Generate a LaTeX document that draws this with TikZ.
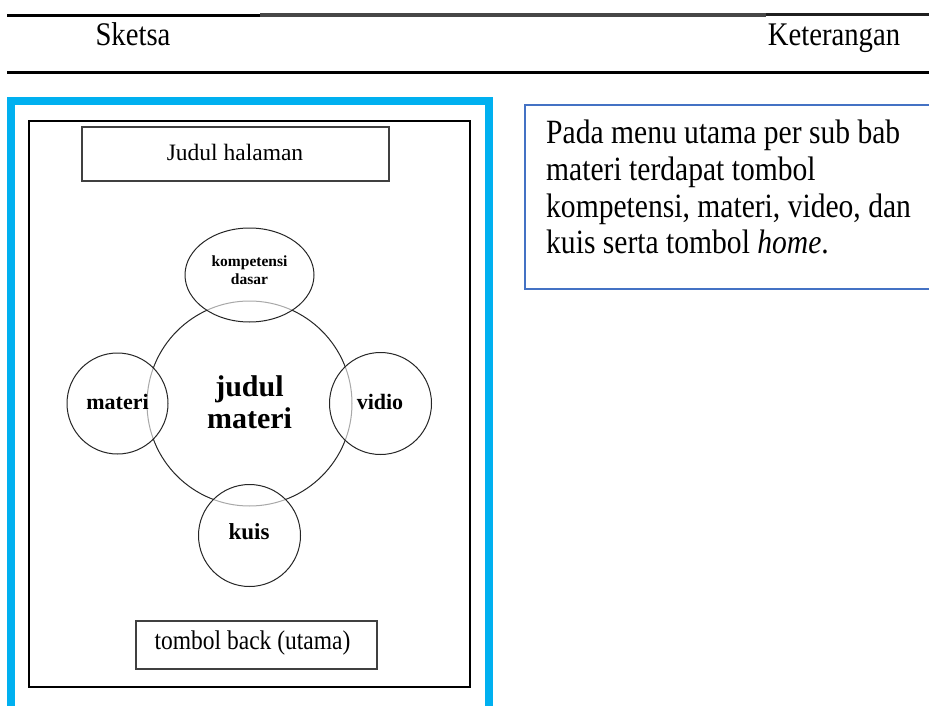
\documentclass[tikz,border=0pt]{standalone}
\usepackage{fontspec}
\setmainfont{Liberation Serif}
\newfontfamily\condfont[FakeStretch=0.87]{Liberation Serif}
\usetikzlibrary{shapes.geometric}
\definecolor{frameblue}{HTML}{00B0F0}
\definecolor{boxblue}{HTML}{4472C4}
\tikzset{
  rulestyle/.style={line width=3pt},
  sketchbox/.style={draw=black!75, line width=1.2pt, inner sep=0pt, rectangle},
  bubble/.style={circle, draw=black!85, line width=1pt, inner sep=0pt, fill=white, fill opacity=0.6, text opacity=1},
  bigbubble/.style={circle, draw=black!85, line width=1pt, inner sep=0pt},
  headtext/.style={font=\condfont\fontsize{33}{36}\selectfont, inner sep=0pt, anchor=base},
  desctext/.style={font=\condfont\fontsize{34}{37}\selectfont, inner sep=0pt, anchor=base west},
}
\begin{document}
\begin{tikzpicture}[x=1pt,y=-1pt]
\useasboundingbox (0,0) rectangle (929,706);
\clip (0,0) rectangle (929,706);
% header rules
\draw[rulestyle, black] (7,16) -- (260,16);
\draw[line width=4pt, black!72] (260,15.5) -- (512,15.5);
\draw[line width=4pt, black!72] (512,15.5) -- (766,15.5);
\draw[rulestyle, black!88] (766,14.7) -- (929,14.7);
\draw[rulestyle, black] (7,72.5) -- (929,72.5);
\node[headtext] (sketsa) at (133,46) {Sketsa};
\node[headtext] (ket) at (834,46) {Keterangan};
% sketch frame
\draw[frameblue, line width=8pt] (11,730) -- (11,101) -- (488.5,101) -- (488.5,730);
\draw[black, line width=1.3pt] (29,121) rectangle (470,687);
\node[sketchbox, minimum width=307pt, minimum height=54pt] (judul) at (235.5,154) {};
\node[font=\fontsize{23.5}{26}\selectfont, inner sep=0pt] (judultext) at (235,152) {Judul halaman};
% circles
\node[bigbubble, minimum size=205pt] (main) at (249.5,403.5) {};
\node[ellipse, draw=black!85, line width=1pt, inner sep=0pt, fill=white, fill opacity=0.6, minimum width=129pt, minimum height=94pt] (kd) at (249.5,275) {};
\node[bubble, minimum size=101pt] (mat) at (117.5,403.5) {};
\node[bubble, minimum size=102pt] (vid) at (380.5,403.5) {};
\node[bubble, minimum size=102pt] (kuis) at (249.5,535.5) {};
\node[font=\bfseries\fontsize{30}{32}\selectfont, align=center, inner sep=0pt] (maintext) at (249.5,402) {judul\\materi};
\node[font=\bfseries\fontsize{15.5}{17.5}\selectfont, align=center, inner sep=0pt] (kdtext) at (249.5,270) {kompetensi\\dasar};
\node[font=\bfseries\fontsize{22}{24}\selectfont, inner sep=0pt] (mattext) at (117.5,402) {materi};
\node[font=\bfseries\fontsize{22}{24}\selectfont, inner sep=0pt] (vidtext) at (380,402) {vidio};
\node[font=\bfseries\fontsize{23}{25}\selectfont, inner sep=0pt] (kuistext) at (249,532) {kuis};
% back button
\node[sketchbox, minimum width=241pt, minimum height=48pt] (back) at (256.5,645) {};
\node[font=\condfont\fontsize{27}{30}\selectfont, inner sep=0pt] (backtext) at (252.5,643) {tombol back (utama)};
% description box
\draw[boxblue, line width=2pt] (940,105.5) -- (525,105.5) -- (525,289) -- (940,289);
\node[desctext] (d1) at (546,144) {Pada menu utama per sub bab};
\node[desctext] (d2) at (546,180.5) {materi terdapat tombol};
\node[desctext] (d3) at (546,217) {kompetensi, materi, video, dan};
\node[desctext] (d4) at (546,253) {kuis serta tombol \textit{home}.};
\end{tikzpicture}
\end{document}
